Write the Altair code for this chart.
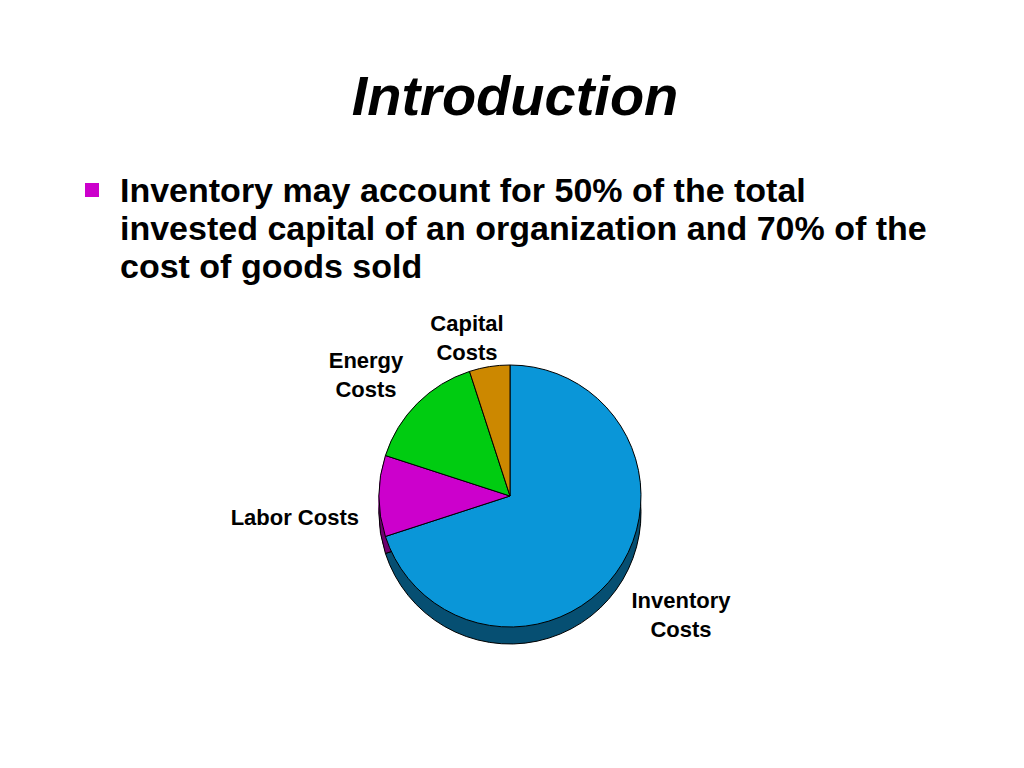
import altair as alt
import pandas as pd

# ---- data ----
categories = ["Inventory Costs", "Labor Costs", "Energy Costs", "Capital Costs"]
values = [70, 10, 15, 5]
order = [0, 1, 2, 3]
top_colors = ["#0A96D8", "#CC00CC", "#00CC11", "#CC8800"]
side_colors = ["#064F72", "#6E006E", "#006E08", "#6E4900"]

title_text = "Introduction"
bullet_lines = [
    "Inventory may account for 50% of the total",
    "invested capital of an organization and 70% of the",
    "cost of goods sold",
]
label_lines = {
    "Capital Costs": ["Capital", "Costs"],
    "Energy Costs": ["Energy", "Costs"],
    "Labor Costs": ["Labor Costs"],
    "Inventory Costs": ["Inventory", "Costs"],
}

df = pd.DataFrame({"category": categories, "value": values, "order": order})

W, H = 1000, 740
FONT = "Liberation Sans"
CX, CY, R, DEPTH = 502, 488, 131, 17

base = alt.Chart(df)

def pie(y, colors, stroke=None, sw=0):
    kw = dict(outerRadius=R)
    if stroke:
        kw.update(stroke=stroke, strokeWidth=sw)
    else:
        kw.update(strokeWidth=0)
    return base.mark_arc(**kw).encode(
        theta=alt.Theta("value:Q", stack=True),
        order=alt.Order("order:Q"),
        color=alt.Color("category:N", scale=alt.Scale(domain=categories, range=colors), legend=None),
        x=alt.value(CX),
        y=alt.value(y),
    )

# pie side (3D depth)
side_layers = [pie(CY + d, side_colors) for d in range(1, DEPTH)]
side_layers.append(pie(CY + DEPTH, side_colors, stroke="black", sw=1))
side = alt.layer(*side_layers)
top = pie(CY, top_colors, stroke="black", sw=1)

layers = []
# title
layers.append(
    alt.Chart(pd.DataFrame({"t": [title_text]})).mark_text(
        font=FONT, fontSize=56, fontWeight="bold", fontStyle="italic",
        align="center", baseline="alphabetic", color="black"
    ).encode(text="t:N", x=alt.value(507), y=alt.value(107))
)
# bullet square
layers.append(
    alt.Chart(pd.DataFrame({"b": [1]})).mark_square(size=196, color="#CC00CC", opacity=1, filled=True)
    .encode(x=alt.value(84), y=alt.value(182))
)
# bullet text
layers.append(
    alt.Chart(pd.DataFrame({"b": [1]})).mark_text(
        font=FONT, fontSize=34, fontWeight="bold", align="left", baseline="alphabetic",
        lineHeight=38, color="black"
    ).encode(text=alt.value(bullet_lines), x=alt.value(112), y=alt.value(194))
)

# labels
label_pos = {
    "Capital Costs": (459, 323, "center"),
    "Energy Costs": (358, 360, "center"),
    "Labor Costs": (351, 517, "right"),
    "Inventory Costs": (673, 600, "center"),
}
for cat in categories:
    lx, ly, al = label_pos[cat]
    layers.append(
        alt.Chart(pd.DataFrame({"b": [1]})).mark_text(
            font=FONT, fontSize=22, fontWeight="bold", align=al, baseline="alphabetic",
            lineHeight=29, color="black"
        ).encode(text=alt.value(label_lines[cat]), x=alt.value(lx), y=alt.value(ly))
    )

chart = alt.layer(
    side, top, *layers
).resolve_scale(color="independent").properties(
    width=W, height=H, autosize=alt.AutoSizeParams(type="none"), padding=0,
    background="white"
).configure_view(strokeWidth=0, stroke=None)

chart.save("out.html", embed_options={"renderer": "svg", "actions": False})
